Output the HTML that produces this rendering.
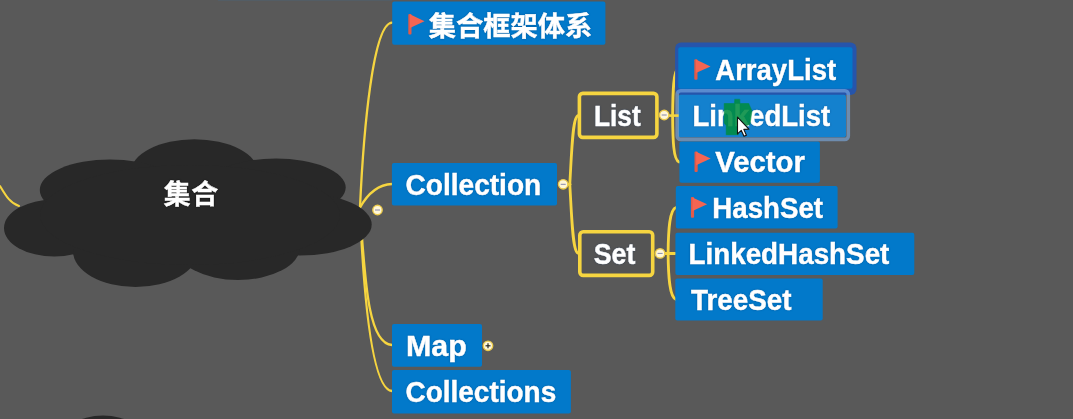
<!DOCTYPE html>
<html lang="zh-CN">
<head>
<meta charset="utf-8">
<title>集合</title>
<style>
html,body{margin:0;padding:0;background:#595959;}
body{width:1073px;height:419px;overflow:hidden;position:relative;font-family:"Liberation Sans","Noto Sans CJK SC",sans-serif;}
#map{position:absolute;left:0;top:0;width:1073px;height:419px;overflow:hidden;background:#595959;}
#blur{position:absolute;left:0;top:0;width:1073px;height:419px;filter:blur(0.55px);}
svg.layer{position:absolute;left:0;top:0;}
.t{position:absolute;left:0;top:0;white-space:nowrap;color:#fff;font-weight:bold;font-size:29px;line-height:1;transform-origin:0 0;text-shadow:0 0 2px rgba(0,40,90,.6);-webkit-text-stroke:0.45px #fff;}
.cjk{font-size:27.3px;}
.root{font-size:26.9px;letter-spacing:0.5px;text-shadow:0 0 2px #000;-webkit-text-stroke:0.4px #fff;}
</style>
</head>
<body>
<div id="map">
<div id="blur">
<svg class="layer" width="1073" height="419" viewBox="0 0 1073 419">
<rect x="218" y="0" width="174" height="1" fill="#48657c" fill-opacity="0.35"/>
<g fill="none" stroke="#f6d540" stroke-width="2.3" stroke-linecap="round">
<path d="M360 207.5 C363.5 130 373 23.5 392 22.7"/>
<path d="M360 207.5 C367 195 378 184.6 392 184"/>
<path d="M360 210 C365 277 367.4 343.5 392 345"/>
<path d="M360 210 C363.7 297 372 389.5 392 391"/>
<path d="M0 186 C6 196 10 203 19 206" stroke-width="2"/>
</g>
<g fill="none" stroke="#f6d540" stroke-width="2.8" stroke-linecap="round">
<path d="M578 115.6 C572.5 117 571.8 150 569.8 184.3 C571.8 218 572.5 251.5 578 253.2"/>
<path d="M563 184.3 L570 184.3"/>
<path d="M678.5 68 C673.3 70 672.8 92 672.6 115.6 C672.8 140 673.3 160 679 162"/>
<path d="M660 253.5 L675 253.5"/>
<path d="M676 207.5 C669.5 209.5 668.3 230 668.1 253.5 C668.3 276 669.5 297 676 299.5"/>
</g>
<g fill="#282828">
<ellipse cx="194.4" cy="172.3" rx="63.7" ry="33"/>
<ellipse cx="110" cy="190" rx="70.2" ry="30.5"/>
<ellipse cx="276" cy="187.5" rx="69.7" ry="29"/>
<ellipse cx="54.3" cy="228" rx="50.3" ry="28.5"/>
<ellipse cx="300" cy="224.5" rx="71.7" ry="31"/>
<ellipse cx="238" cy="247" rx="62" ry="33"/>
<ellipse cx="135.5" cy="251" rx="62.5" ry="36"/>
<ellipse cx="190" cy="215" rx="150" ry="50"/>
<ellipse cx="103" cy="445" rx="44" ry="29.6"/>
</g>
<rect x="675.1" y="42.4" width="181.4" height="52.6" rx="6" fill="#2655ab"/>
<rect x="392.2" y="1.6" width="213.2" height="43.2" rx="2" fill="#0279ca"/>
<rect x="391.9" y="163" width="165.1" height="42.6" rx="2" fill="#0279ca"/>
<rect x="392" y="324" width="90" height="42.7" rx="2" fill="#0279ca"/>
<rect x="392" y="369.9" width="178.9" height="43.5" rx="2" fill="#0279ca"/>
<rect x="678.3" y="47.3" width="174.2" height="41.5" rx="2" fill="#0279ca"/>
<rect x="678.4" y="94.8" width="167.6" height="42.4" rx="2" fill="#1481ce"/>
<rect x="679.4" y="141.5" width="140.5" height="41.2" rx="2" fill="#0279ca"/>
<rect x="675.8" y="186.1" width="161.8" height="42.5" rx="2" fill="#0279ca"/>
<rect x="675.4" y="232.7" width="238.9" height="42.3" rx="2" fill="#0279ca"/>
<rect x="675.3" y="278.6" width="147.4" height="41.9" rx="2" fill="#0279ca"/>
<rect x="677.2" y="90.7" width="171.1" height="48.7" rx="3.4" fill="none" stroke="#7dafe8" stroke-opacity="0.6" stroke-width="3.6"/>
<path d="M664 115.6 H678.6" stroke="#f6d540" stroke-width="2.6" fill="none"/>
<rect x="579.4" y="93.4" width="77.5" height="44" rx="3.4" fill="#545454" stroke="#f6d540" stroke-width="3.6"/>
<rect x="579.8" y="231.8" width="72.9" height="43.6" rx="3.4" fill="#545454" stroke="#f6d540" stroke-width="3.6"/>
<g transform="translate(408.3,14)"><rect x="0" y="0" width="3.2" height="20.6" rx="1" fill="#e25a48"/><path d="M1.6 0.3 L16.2 7.2 L1.6 13.9 Z" fill="#f56552"/></g>
<g transform="translate(694.3,59.2)"><rect x="0" y="0" width="3.2" height="20.6" rx="1" fill="#e25a48"/><path d="M1.6 0.3 L16.2 7.2 L1.6 13.9 Z" fill="#f56552"/></g>
<g transform="translate(694.5,151.4)"><rect x="0" y="0" width="3.2" height="20.6" rx="1" fill="#e25a48"/><path d="M1.6 0.3 L16.2 7.2 L1.6 13.9 Z" fill="#f56552"/></g>
<g transform="translate(690.9,197.1)"><rect x="0" y="0" width="3.2" height="20.6" rx="1" fill="#e25a48"/><path d="M1.6 0.3 L16.2 7.2 L1.6 13.9 Z" fill="#f56552"/></g>
<circle cx="377.5" cy="210" r="4.7" fill="#fff7d8" stroke="#eccb4c" stroke-width="1.4"/><path d="M375 210 H380" stroke="#8686ae" stroke-width="1"/>
<circle cx="563.2" cy="184.3" r="4.7" fill="#fff7d8" stroke="#eccb4c" stroke-width="1.4"/><path d="M560.7 184.3 H565.7" stroke="#8686ae" stroke-width="1"/>
<circle cx="664.2" cy="115" r="4.7" fill="#fff7d8" stroke="#eccb4c" stroke-width="1.4"/><path d="M661.7 115 H666.7" stroke="#8686ae" stroke-width="1"/>
<circle cx="660.1" cy="253.4" r="4.7" fill="#fff7d8" stroke="#eccb4c" stroke-width="1.4"/><path d="M657.6 253.4 H662.6" stroke="#8686ae" stroke-width="1"/>
<circle cx="488" cy="345.8" r="4.7" fill="#fff7d8" stroke="#eccb4c" stroke-width="1.4"/><path d="M485.5 345.8 H490.5" stroke="#222" stroke-width="1.15"/><path d="M488 343.3 V348.3" stroke="#222" stroke-width="1.15"/>
</svg>
<span class="t root" id="root" style="transform:translate(163.8px,181.5px);">集合</span>
<span class="t cjk" id="t_n1" style="transform:translate(428.75px,12.88px) scaleX(0.9981);">集合框架体系</span>
<span class="t" id="t_n2" style="transform:translate(405.5px,170.75px) scaleX(0.9683);">Collection</span>
<span class="t" id="t_n3" style="transform:translate(406px,332.15px) scaleX(1.0464);">Map</span>
<span class="t" id="t_n4" style="transform:translate(405.5px,378.45px) scaleX(0.964);">Collections</span>
<span class="t" id="t_n5" style="transform:translate(715.25px,55.85px) scaleX(0.9492);">ArrayList</span>
<span class="t" id="t_n6" style="transform:translate(692.5px,101.55px) scaleX(0.9497);">LinkedList</span>
<span class="t" id="t_n7" style="transform:translate(715.25px,148.05px) scaleX(1.012);">Vector</span>
<span class="t" id="t_n8" style="transform:translate(712.25px,193.75px) scaleX(0.9544);">HashSet</span>
<span class="t" id="t_n9" style="transform:translate(688.5px,239.85px) scaleX(0.9588);">LinkedHashSet</span>
<span class="t" id="t_n10" style="transform:translate(691px,286.05px) scaleX(0.9584);">TreeSet</span>
<span class="t" id="t_b1" style="transform:translate(594px,101.55px) scaleX(0.9051);">List</span>
<span class="t" id="t_b2" style="transform:translate(593.75px,239.95px) scaleX(0.9225);">Set</span>
<svg class="layer" width="1073" height="419" viewBox="0 0 1073 419">
<path d="M724.3 103.5 L734.5 103.5 L734.8 99.4 L739.6 99.4 L739.9 103.5 L748.6 103.5 L751.9 111 L749.9 124.2 L739.6 128.2 L738.2 134.7 L726.3 134.7 L726.3 125.5 L724.3 122.9 Z" fill="#008c40" fill-opacity="0.88" stroke="#008c40" stroke-opacity="0.5" stroke-width="1.2" stroke-linejoin="round"/>
<path d="M737.5 117.2 L737.5 133.9 L741.3 130.4 L744 136.3 L746.4 135.2 L743.8 129.4 L748.9 129.2 Z" fill="#fff" stroke="#111" stroke-width="1.1" stroke-linejoin="round"/>
</svg>
</div>
</div>
</body>
</html>
